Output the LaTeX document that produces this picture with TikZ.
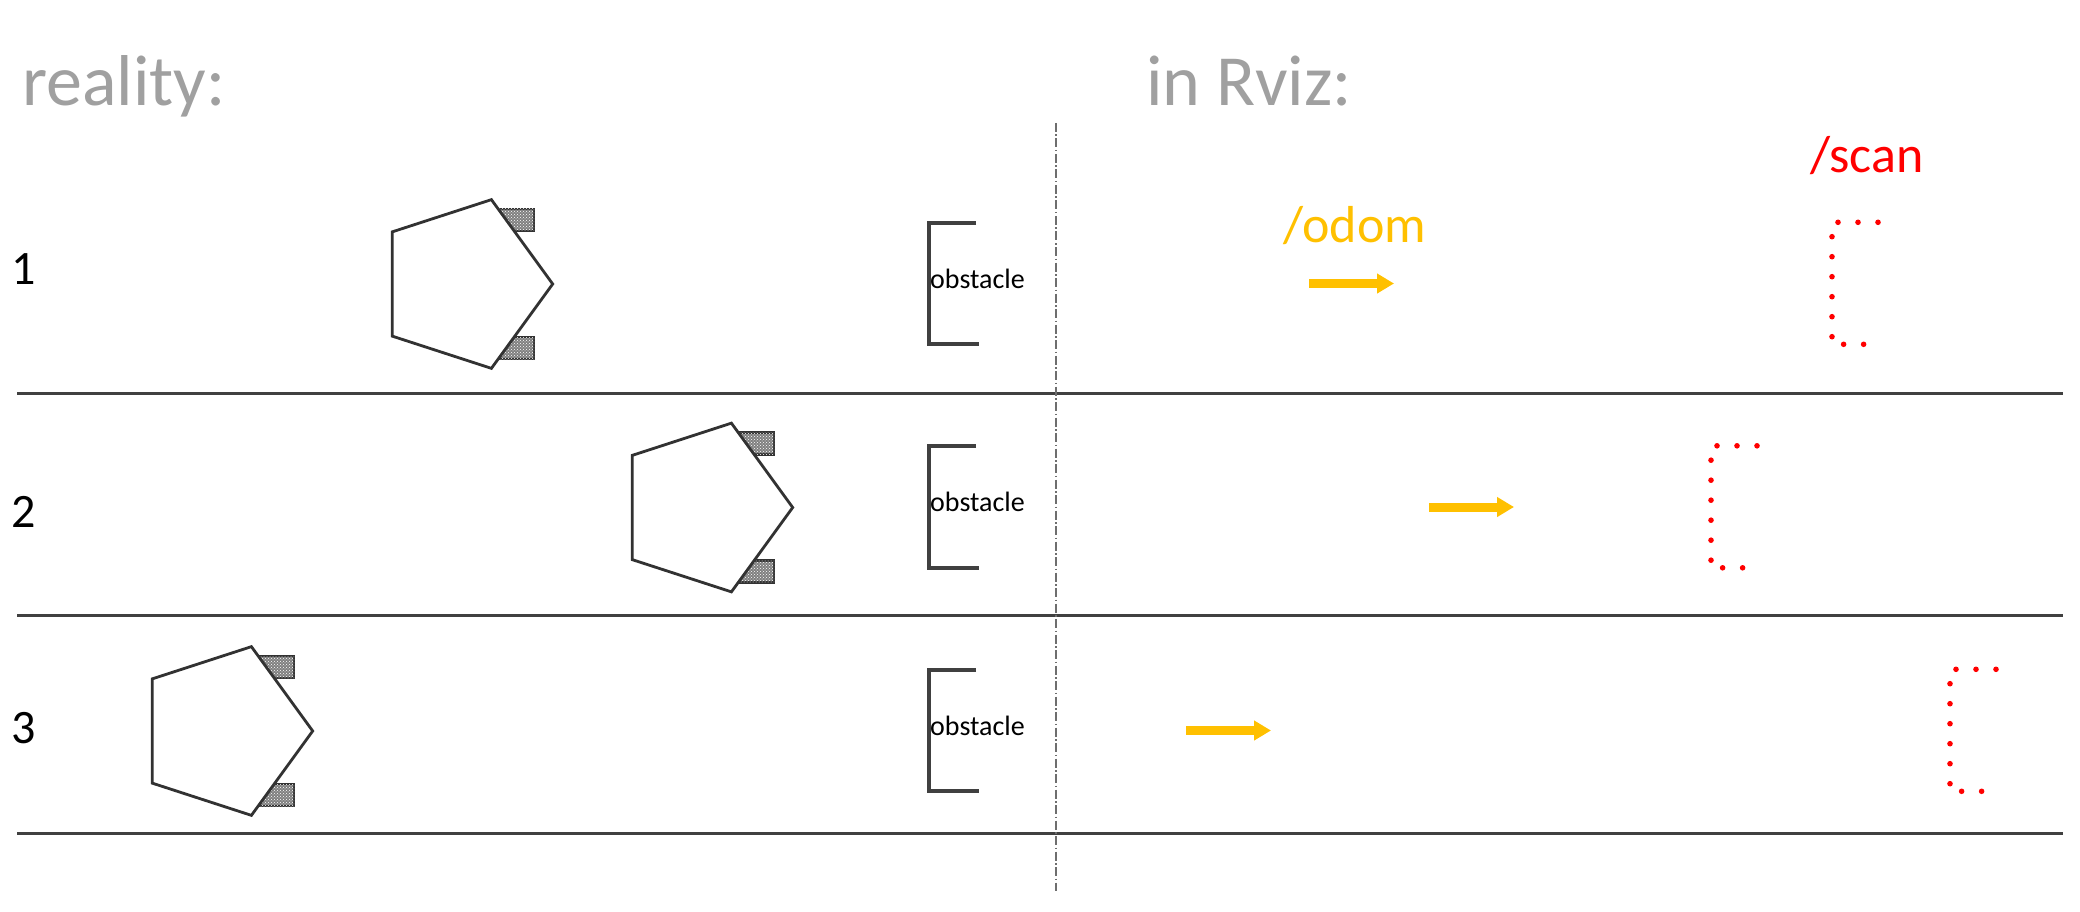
\documentclass[tikz,border=0pt]{standalone}
\usepackage{fontspec}
\setmainfont{Carlito}
\usetikzlibrary{arrows.meta,patterns}
\definecolor{titlegray}{RGB}{160,160,160}
\definecolor{odomyellow}{RGB}{255,192,0}
\definecolor{linegray}{RGB}{64,64,64}
\definecolor{robotgray}{RGB}{50,50,50}
\definecolor{dashgray}{RGB}{110,110,110}
\definecolor{scanred}{RGB}{255,0,0}
\begin{document}
\begin{tikzpicture}[x=1pt,y=-1pt,
  titletext/.style={font=\fontsize{72}{78}\selectfont, text=titlegray, inner sep=0pt, anchor=base west},
  rownum/.style={font=\fontsize{48}{54}\selectfont, text=black, inner sep=0pt, anchor=base west},
  obstext/.style={font=\fontsize{28}{32}\selectfont, text=black, inner sep=0pt, anchor=base west},
  topictext/.style={font=\fontsize{52}{58}\selectfont, inner sep=0pt, anchor=base west},
  separator/.style={draw=linegray, line width=3pt},
  dashdotline/.style={draw=dashgray, line width=2pt, dash pattern=on 9pt off 2.5pt on 1.5pt off 2.5pt},
  robotbody/.style={draw=robotgray, fill=white, line width=2.8pt, line join=miter},
  wheel/.style={draw=robotgray, line width=2.2pt, fill=black!50, postaction={pattern=crosshatch dots, pattern color=white}},
  bracket/.style={draw=linegray, line width=4pt, line cap=butt},
  odomarrow/.style={draw=odomyellow, line width=9pt, -{Triangle[length=17pt,width=19pt]}},
  scandot/.style={fill=scanred},
]
\useasboundingbox (0,0) rectangle (2080,912);

% titles
\node[titletext] (treal) at (22,106) {reality:};
\node[titletext] (trviz) at (1146,106) {in Rviz:};

% separators
\coordinate (h1l) at (17,393);  \coordinate (h1r) at (2063,393);
\coordinate (h2l) at (17,615);  \coordinate (h2r) at (2063,615);
\coordinate (h3l) at (17,833);  \coordinate (h3r) at (2063,833);
\draw[separator] (h1l) -- (h1r);
\draw[separator] (h2l) -- (h2r);
\draw[separator] (h3l) -- (h3r);

% vertical dash-dot line
\coordinate (vt) at (1056,123);
\coordinate (vb) at (1056,891);
\draw[dashdotline] (vt) -- (vb);

% topic labels
\node[topictext, text=odomyellow] (todom) at (1283,243) {/odom};
\node[topictext, text=scanred] (tscan) at (1810,173) {/scan};

% rows
\foreach \r/\dy/\cx/\ax/\sx/\ny in {1/0/464/1309/1832/284, 2/223.5/704/1429/1711/527.7, 3/447/224/1186/1950/743}{
  % row number
  \node[rownum] (num\r) at (11,\ny) {\r};
  % robot
  \coordinate (rc\r) at (\cx,{284+\dy});
  \draw[wheel] ({\cx+35},{284+\dy-75}) rectangle ({\cx+70},{284+\dy-53});
  \draw[wheel] ({\cx+35},{284+\dy+53}) rectangle ({\cx+70},{284+\dy+75});
  \draw[robotbody] ([shift={(0:88.7)}]rc\r) -- ([shift={(72:88.7)}]rc\r) -- ([shift={(144:88.7)}]rc\r)
     -- ([shift={(216:88.7)}]rc\r) -- ([shift={(288:88.7)}]rc\r) -- cycle;
  % obstacle
  \coordinate (ob\r a) at (976,{222.7+\dy});
  \coordinate (ob\r b) at (929,{222.7+\dy});
  \coordinate (ob\r c) at (929,{344.3+\dy});
  \coordinate (ob\r d) at (979,{344.3+\dy});
  \draw[bracket] (ob\r a) -- (ob\r b) -- (ob\r c) -- (ob\r d);
  \node[obstext] (obs\r) at (930,{288+\dy}) {obstacle};
  % odom arrow
  \coordinate (oa\r s) at (\ax,{283.5+\dy});
  \coordinate (oa\r e) at ({\ax+85},{283.5+\dy});
  \draw[odomarrow] (oa\r s) -- (oa\r e);
  % scan dots
  \foreach \px/\py in {6/0, 26/0, 46/0, 0/14.4, 0/34.4, 0/54.4, 0/74.4, 0/94.4, 0/114.4, 11.6/122, 31.6/122}{
    \fill[scandot] ({\sx+\px},{222.3+\dy+\py}) circle (2.8);
  }
}
\end{tikzpicture}
\end{document}
